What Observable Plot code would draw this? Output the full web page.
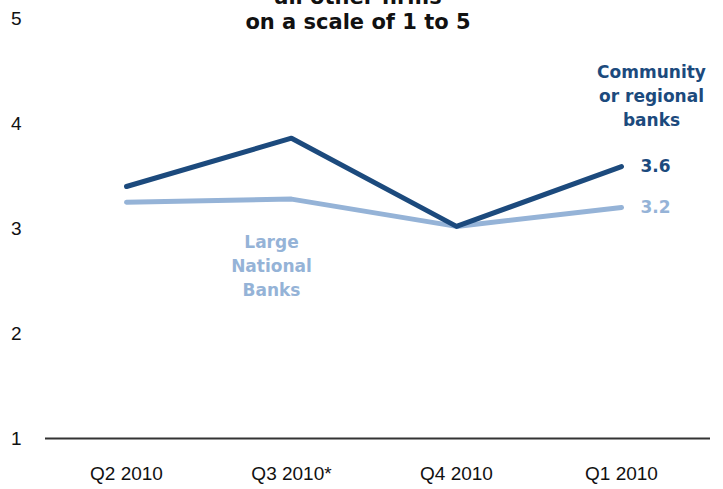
<!DOCTYPE html>
<html><head><meta charset="utf-8">
<script src="https://cdn.jsdelivr.net/npm/d3@7"></script>
<script src="https://cdn.jsdelivr.net/npm/@observablehq/plot@0.6"></script>
<style>
body{margin:0;background:#fff;}
#wrap{position:relative;width:723px;height:489px;overflow:hidden;}
#title{position:absolute;left:0;width:716px;top:-15px;text-align:center;font-family:"DejaVu Sans",sans-serif;font-weight:bold;font-size:21px;line-height:25px;color:#111;}
</style></head>
<body><div id="wrap"><div id="title">all other firms<br>on a scale of 1 to 5</div><div id="chart"></div></div>
<script>
const quarters = ["Q2 2010", "Q3 2010*", "Q4 2010", "Q1 2010"];
const community = [3.4, 3.86, 3.02, 3.59];
const large = [3.25, 3.28, 3.02, 3.2];
const yTicks = [1, 2, 3, 4, 5];
const endLabels = ["3.6", "3.2"];
const communityName = "Community\nor regional\nbanks";
const largeName = "Large\nNational\nBanks";

const dark = "#1c4a7d", light = "#95b3d7";
const rows = quarters.flatMap((q, i) => [
  {q, v: community[i], s: "c"},
  {q, v: large[i], s: "l"}
]);
const endRows = [
  {q: quarters[3], v: community[3], t: endLabels[0], c: dark},
  {q: quarters[3], v: large[3], t: endLabels[1], c: light}
];
const labelFont = {fontFamily: "DejaVu Sans", fontWeight: "bold", fontSize: 17, lineHeight: 1.4};

const plot = Plot.plot({
  width: 723, height: 489,
  marginTop: 18, marginBottom: 51, marginLeft: 45, marginRight: 13,
  style: {fontFamily: "'Liberation Sans Narrow', 'Liberation Sans', sans-serif", fontSize: "19px", color: "#111"},
  x: {type: "point", domain: quarters, range: [125, 622], padding: 0, label: null},
  y: {domain: [1, 5], label: null},
  marks: [
    Plot.axisX({tickSize: 0, tickPadding: 28, fontSize: 19, label: null}),
    Plot.axisY({ticks: yTicks, tickSize: 0, tickPadding: 24, fontSize: 19, label: null, tickFormat: d3.format("d")}),
    Plot.ruleY([1], {stroke: "#333", strokeWidth: 2}),
    Plot.line(rows.filter(d => d.s === "l"), {x: "q", y: "v", stroke: light, strokeWidth: 5}),
    Plot.line(rows.filter(d => d.s === "c"), {x: "q", y: "v", stroke: dark, strokeWidth: 5}),
    Plot.text(endRows, {x: "q", y: "v", text: "t", fill: "c", dx: 19, textAnchor: "start",
      fontFamily: "DejaVu Sans", fontWeight: "bold", fontSize: 17, letterSpacing: 2}),
    Plot.text([{q: quarters[3], v: 4.28}], {x: "q", y: "v", text: () => communityName, fill: dark, dx: 30, ...labelFont}),
    Plot.text([{q: quarters[1], v: 2.66}], {x: "q", y: "v", text: () => largeName, fill: light, dx: -20, ...labelFont})
  ]
});
document.getElementById("chart").appendChild(plot);
</script></body></html>
